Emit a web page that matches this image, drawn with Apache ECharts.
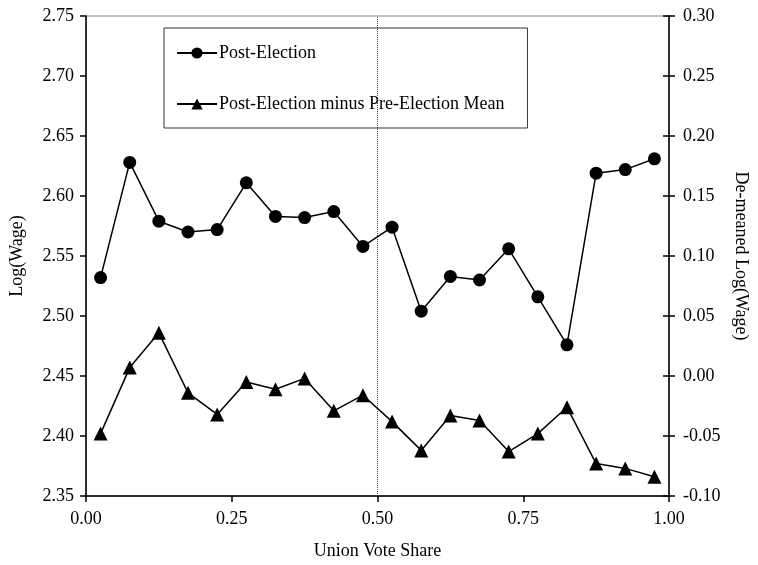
<!DOCTYPE html>
<html>
<head>
<meta charset="utf-8">
<script src="https://cdn.jsdelivr.net/npm/echarts@6/dist/echarts.min.js"></script>
<style>html,body{margin:0;padding:0;background:#fff}#c{width:758px;height:565px}</style>
</head>
<body>
<div id="c"></div>
<script>
const xValues = [0.025,0.075,0.125,0.175,0.225,0.275,0.325,0.375,0.425,0.475,0.525,0.575,0.625,0.675,0.725,0.775,0.825,0.875,0.925,0.975];
const postElection = [2.532,2.628,2.579,2.570,2.572,2.611,2.583,2.582,2.587,2.558,2.574,2.504,2.533,2.530,2.556,2.516,2.476,2.619,2.622,2.631];
const demeaned = [-0.048,0.007,0.036,-0.014,-0.032,-0.005,-0.011,-0.002,-0.029,-0.016,-0.038,-0.062,-0.033,-0.037,-0.063,-0.048,-0.026,-0.073,-0.077,-0.084];
const seriesNames = ['Post-Election','Post-Election minus Pre-Election Mean'];
const axisTitles = {x:'Union Vote Share', left:'Log(Wage)', right:'De-meaned Log(Wage)'};
const cutoff = 0.5;

const font = 'Liberation Serif';
const fmt = v => { if (Math.abs(v) < 1e-9) return '0.00'; return v.toFixed(2); };
const chart = echarts.init(document.getElementById('c'));
chart.setOption({
  animation: false,
  backgroundColor: '#fff',
  textStyle: {fontFamily: font, color: '#000'},
  grid: {left: 85, right: 78, top: 16, bottom: 69, show: true, borderColor: '#808080', borderWidth: 1},
  legend: {
    orient: 'vertical', left: 164, top: 28,
    borderColor: '#333', borderWidth: 1, backgroundColor: '#fff',
    padding: [16, 23, 15, 12], itemGap: 33, itemWidth: 40, itemHeight: 14,
    textStyle: {fontFamily: font, fontSize: 18, color: '#000', padding: [0,0,0,-3]},
    data: seriesNames
  },
  xAxis: {
    type: 'value', min: 0, max: 1, interval: 0.25,
    name: axisTitles.x, nameLocation: 'middle', nameGap: 46,
    nameTextStyle: {fontFamily: font, fontSize: 18, color: '#000'},
    axisLine: {onZero: false, lineStyle: {color: '#000', width: 1.5}},
    axisTick: {show: true, length: 6, lineStyle: {color: '#000', width: 1.5}},
    axisLabel: {fontFamily: font, fontSize: 18, color: '#000', margin: 14, formatter: fmt},
    splitLine: {show: false}
  },
  yAxis: [{
    type: 'value', min: 2.35, max: 2.75, interval: 0.05, position: 'left',
    name: axisTitles.left, nameLocation: 'middle', nameGap: 60, nameRotate: 90,
    nameTextStyle: {fontFamily: font, fontSize: 18, color: '#000'},
    axisLine: {show: true, lineStyle: {color: '#000', width: 1.5}},
    axisTick: {show: true, length: 6, lineStyle: {color: '#000', width: 1.5}},
    axisLabel: {fontFamily: font, fontSize: 18, color: '#000', margin: 12, formatter: fmt},
    splitLine: {show: false}
  }, {
    type: 'value', min: -0.10, max: 0.30, interval: 0.05, position: 'right',
    name: axisTitles.right, nameLocation: 'middle', nameGap: 63, nameRotate: -90,
    nameTextStyle: {fontFamily: font, fontSize: 18, color: '#000'},
    axisLine: {show: true, lineStyle: {color: '#000', width: 1.5}},
    axisTick: {show: true, length: 6, lineStyle: {color: '#000', width: 1.5}},
    axisLabel: {fontFamily: font, fontSize: 18, color: '#000', margin: 14, formatter: fmt},
    splitLine: {show: false}
  }, {
    type: 'value', min: -0.10, max: 0.30, interval: 0.05, position: 'right', offset: 0,
    axisLine: {show: false},
    axisTick: {show: true, inside: true, length: 6, lineStyle: {color: '#000', width: 1.5}},
    axisLabel: {show: false},
    splitLine: {show: false}
  }],
  series: [{
    name: seriesNames[0], type: 'line', yAxisIndex: 0,
    data: xValues.map((x, i) => [x, postElection[i]]),
    symbol: 'circle', symbolSize: 13,
    lineStyle: {color: '#000', width: 1.5}, itemStyle: {color: '#000'},
    markLine: {
      silent: true, symbol: 'none', label: {show: false},
      lineStyle: {color: '#444', width: 1, type: 'dotted'},
      data: [{xAxis: cutoff}]
    }
  }, {
    name: seriesNames[1], type: 'line', yAxisIndex: 1,
    data: xValues.map((x, i) => [x, demeaned[i]]),
    symbol: 'triangle', symbolSize: 14,
    lineStyle: {color: '#000', width: 1.5}, itemStyle: {color: '#000'}
  }]
});
</script>
</body>
</html>
